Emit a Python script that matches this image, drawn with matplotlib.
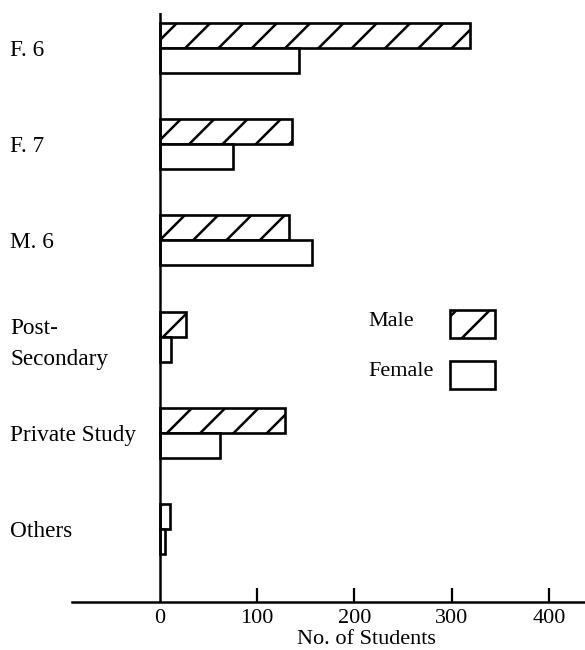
import numpy as np
import matplotlib
matplotlib.use("Agg")
import matplotlib.pyplot as plt
from matplotlib.patches import Rectangle

categories = ["F. 6", "F. 7", "M. 6", "Post-\nSecondary", "Private Study", "Others"]
male = [319, 136, 133, 27, 129, 11]
female = [143, 75, 157, 12, 62, 6]
xticks = [100, 200, 300, 400]

plt.rcParams['font.family'] = ['Liberation Serif', 'DejaVu Serif']
plt.rcParams['hatch.linewidth'] = 0.9

# high dpi so the hatch lines come out widely spaced
fig = plt.figure(figsize=(2.925, 3.25), dpi=200)
ax = fig.add_axes([72 / 585, 48 / 650, 513 / 585, 589 / 650])

fs = 8.0
y = np.arange(len(categories))
h = 0.26
ax.barh(y - h / 2, male, height=h, color='white', edgecolor='black',
        linewidth=0.95, hatch='//')
ax.barh(y + h / 2, female, height=h, color='white', edgecolor='black',
        linewidth=0.95)

ax.axvline(0, color='black', linewidth=0.9)

ax.set_xlim(-90, 437)
ax.set_ylim(5.756, -0.363)

for s in ['left', 'top', 'right']:
    ax.spines[s].set_visible(False)
ax.spines['bottom'].set_linewidth(0.9)

ax.set_xticks([0] + xticks)
ax.set_xticklabels(['0'] + [str(t) for t in xticks], fontsize=fs)
ax.tick_params(axis='x', direction='in', length=5, width=0.8, pad=2.5)
ax.xaxis.get_major_ticks()[0].tick1line.set_visible(False)

ax.set_yticks(y)
ax.set_yticklabels(categories, fontsize=8.4, ha='left', linespacing=1.6)
ax.tick_params(axis='y', length=0, pad=22.3)

fig.text(366 / 585, 1 - 639 / 650, 'No. of Students', ha='center',
         va='center', fontsize=fs)

# legend drawn by hand: labels left-aligned, key boxes on the right
legend_labels = ['Male', 'Female']
legend_hatch = ['//', None]
for k, (lab, ht) in enumerate(zip(legend_labels, legend_hatch)):
    top = 310 + k * 51
    fig.add_artist(Rectangle((450 / 585, 1 - (top + 28) / 650), 45 / 585, 28 / 650,
                             transform=fig.transFigure, facecolor='white',
                             edgecolor='black', linewidth=0.95, hatch=ht))
    fig.text(368 / 585, 1 - (top + 11) / 650, lab, ha='left', va='center',
             fontsize=fs)

fig.savefig('out.png', dpi=200)
